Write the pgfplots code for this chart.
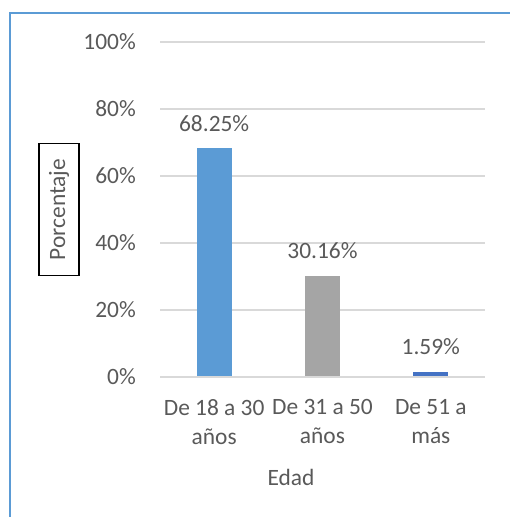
\documentclass[border=0pt]{standalone}
\usepackage{pgfplots}
\pgfplotsset{compat=1.18}
\usepackage{fontspec}
\setmainfont{Carlito}
\definecolor{txt}{HTML}{595959}
\definecolor{gridc}{HTML}{D9D9D9}
\definecolor{barA}{HTML}{5B9BD5}
\definecolor{barB}{HTML}{A5A5A5}
\definecolor{barC}{HTML}{4472C4}
\begin{document}
\begin{tikzpicture}
\useasboundingbox (0,0) rectangle (510bp,517bp);
% chart frame (only left and top edges fall inside the picture)
\draw[barA, line width=2bp] (10bp,0) -- (10bp,504bp) -- (512bp,504bp);
\begin{axis}[
  at={(160bp,140bp)}, anchor=south west,
  scale only axis, width=325bp, height=335bp,
  xmin=-0.5, xmax=2.5, ymin=0, ymax=100,
  xtick={0,1,2},
  xticklabels={De 18 a 30\\años, De 31 a 50\\años, De 51 a\\más},
  ytick={0,20,40,60,80,100},
  yticklabels={0\%,20\%,40\%,60\%,80\%,100\%},
  font=\fontsize{23.5}{29}\selectfont,
  every tick label/.append style={text=txt},
  xticklabel style={align=center, inner sep=0pt, yshift=-18bp},
  yticklabel style={inner sep=0pt, xshift=-24bp},
  tick style={draw=none},
  axis line style={draw=none},
  ymajorgrids, grid style={gridc, line width=1.3bp},
  ybar, bar width=35bp, bar shift=0pt,
  nodes near coords, point meta=explicit symbolic,
  nodes near coords style={text=txt, anchor=center, yshift=25bp},
  xlabel={Edad},
  xlabel style={text=txt, at={(rel axis cs:0.403,0)}, anchor=center, yshift=-100bp},
  ylabel={Porcentaje},
  ylabel style={text=txt, draw=black, line width=1.3bp, inner xsep=15bp, inner ysep=10bp,
    at={(rel axis cs:0,0.5)}, anchor=center, yshift=101bp},
]
\addplot[fill=barA, draw=none] coordinates {(0,68.25) [68.25\%]};
\addplot[fill=barB, draw=none] coordinates {(1,30.16) [30.16\%]};
\addplot[fill=barC, draw=none] coordinates {(2,1.59) [1.59\%]};
\draw[gridc, line width=1.3bp] (rel axis cs:0,0) -- (rel axis cs:1,0);
\end{axis}
\end{tikzpicture}
\end{document}
